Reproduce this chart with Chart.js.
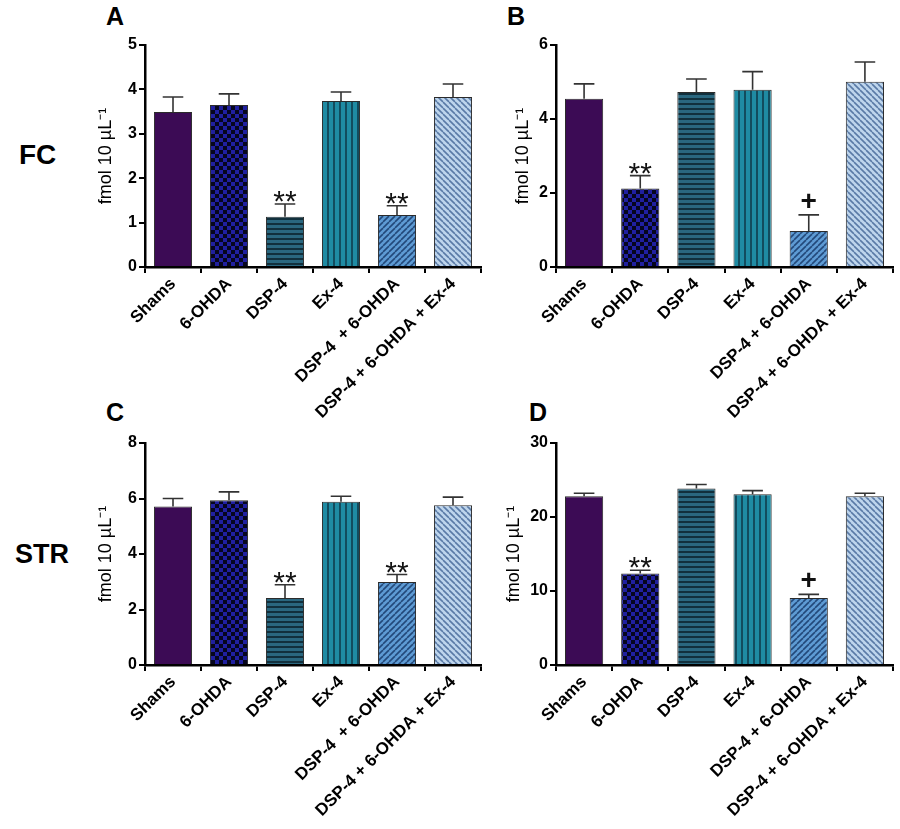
<!DOCTYPE html>
<html>
<head>
<meta charset="utf-8">
<script src="https://cdn.jsdelivr.net/npm/chart.js@4.4.1/dist/chart.umd.min.js"></script>
<style>
  body { margin: 0; background: #fff; width: 900px; height: 829px; position: relative; overflow: hidden; font-family: "Liberation Sans", Arial, sans-serif; }
  canvas { position: absolute; }
  .lbl { position: absolute; font-weight: bold; color: #000; line-height: 1; }
</style>
</head>
<body>
<div class="lbl" style="left:106px;top:4px;font-size:25px">A</div>
<div class="lbl" style="left:507px;top:4px;font-size:25px">B</div>
<div class="lbl" style="left:106px;top:400px;font-size:25px">C</div>
<div class="lbl" style="left:529px;top:400px;font-size:25px">D</div>
<div class="lbl" style="left:19px;top:141px;font-size:28px">FC</div>
<div class="lbl" style="left:15px;top:541px;font-size:27px">STR</div>

<canvas id="chartA" width="395" height="400" style="left:95px;top:30px"></canvas>
<canvas id="chartB" width="390" height="400" style="left:512px;top:30px"></canvas>
<canvas id="chartC" width="395" height="400" style="left:95px;top:428px"></canvas>
<canvas id="chartD" width="395" height="400" style="left:503px;top:428px"></canvas>

<script>
// categories
var labelsAC = ['Shams', '6-OHDA', 'DSP-4', 'Ex-4', 'DSP-4  + 6-OHDA', 'DSP-4 + 6-OHDA + Ex-4'];
var labelsBD = ['Shams', '6-OHDA', 'DSP-4', 'Ex-4', 'DSP-4 + 6-OHDA', 'DSP-4 + 6-OHDA + Ex-4'];

// FC
var meansA = [3.49, 3.65, 1.13, 3.74, 1.17, 3.83];
var errA   = [0.34, 0.25, 0.29, 0.20, 0.21, 0.29];
var marksA = ['', '', '**', '', '**', ''];

var meansB = [4.55, 2.12, 4.73, 4.79, 0.97, 5.01];
var errB   = [0.40, 0.35, 0.35, 0.49, 0.44, 0.53];
var marksB = ['', '**', '', '', '+', ''];

// STR
var meansC = [5.71, 5.94, 2.41, 5.88, 2.99, 5.76];
var errC   = [0.29, 0.30, 0.48, 0.20, 0.27, 0.29];
var marksC = ['', '', '**', '', '**', ''];

var meansD = [22.8, 12.36, 23.84, 23.08, 9.07, 22.8];
var errD   = [0.40, 0.44, 0.56, 0.49, 0.48, 0.40];
var marksD = ['', '**', '', '', '+', ''];

var yTitle = 'fmol 10 \u00b5L\u207b\u00b9';
var FONT = '"Liberation Sans", Arial, sans-serif';

function makeTile(size, draw) {
    var c = document.createElement('canvas');
    c.width = size; c.height = size;
    var g = c.getContext('2d');
    draw(g, size);
    return g.createPattern(c, 'repeat');
}

function fills() {
    var solid = '#3c0b55';
    var checker = makeTile(8, function (g) {
        g.fillStyle = '#06061e'; g.fillRect(0, 0, 8, 8);
        g.fillStyle = '#2020a0'; g.fillRect(0, 0, 4, 4); g.fillRect(4, 4, 4, 4);
    });
    var hstripe = makeTile(5, function (g) {
        g.fillStyle = '#2a677f'; g.fillRect(0, 0, 5, 5);
        g.fillStyle = '#11303d'; g.fillRect(0, 3, 5, 2);
    });
    var vstripe = makeTile(6, function (g) {
        g.fillStyle = '#1f8ba3'; g.fillRect(0, 0, 6, 6);
        g.fillStyle = '#124c5e'; g.fillRect(4, 0, 2, 6);
    });
    function diag(bg, fg, up) {
        return makeTile(6, function (g, s) {
            g.fillStyle = bg; g.fillRect(0, 0, s, s);
            g.strokeStyle = fg; g.lineWidth = 1.6;
            for (var k = -1; k <= 1; k++) {
                g.beginPath();
                if (up) { g.moveTo(k * s, s); g.lineTo(k * s + s, 0); }
                else { g.moveTo(k * s, 0); g.lineTo(k * s + s, s); }
                g.stroke();
            }
        });
    }
    return [solid, checker, hstripe, vstripe,
        diag('#5e9bd4', '#23497a', true),
        diag('#bed5ec', '#5a7aa6', false)];
}

var errorBarPlugin = {
    id: 'errBars',
    afterDatasetsDraw: function (chart, args, opts) {
        var ctx = chart.ctx;
        var meta = chart.getDatasetMeta(0);
        var ys = chart.scales.y;
        var vals = chart.data.datasets[0].data;
        ctx.save();
        meta.data.forEach(function (bar, i) {
            var top = ys.getPixelForValue(vals[i] + opts.err[i]);
            var half = bar.width * 0.27;
            ctx.strokeStyle = '#333';
            ctx.lineWidth = 1.6;
            ctx.beginPath();
            ctx.moveTo(bar.x, bar.y);
            ctx.lineTo(bar.x, top);
            ctx.moveTo(bar.x - half, top);
            ctx.lineTo(bar.x + half, top);
            ctx.stroke();
            var m = opts.marks[i];
            if (m) {
                ctx.fillStyle = '#111';
                ctx.textAlign = 'center';
                ctx.textBaseline = 'alphabetic';
                if (m === '+') {
                    ctx.font = 'bold 28px ' + FONT;
                    ctx.fillText(m, bar.x, top - 5);
                } else {
                    ctx.font = '30px ' + FONT;
                    ctx.fillText(m, bar.x, top + 7);
                }
            }
        });
        ctx.restore();
    }
};

function makePanel(id, labels, means, errs, marks, yMax, yStep, yWidth, padRight) {
    var ctx = document.getElementById(id);
    return new Chart(ctx, {
        type: 'bar',
        data: {
            labels: labels,
            datasets: [{
                data: means,
                backgroundColor: fills(),
                borderColor: '#2b2b2b',
                borderWidth: 1,
                barPercentage: 0.68,
                categoryPercentage: 1
            }]
        },
        options: {
            responsive: false,
            animation: false,
            layout: { padding: { top: 15, right: padRight, left: 0, bottom: 0 } },
            plugins: {
                legend: { display: false },
                tooltip: { enabled: false },
                errBars: { err: errs, marks: marks }
            },
            scales: {
                x: {
                    offset: true,
                    grid: { display: true, drawOnChartArea: false, tickLength: 6, color: '#000', lineWidth: 2 },
                    border: { display: true, color: '#000', width: 2.5 },
                    ticks: {
                        autoSkip: false, minRotation: 45, maxRotation: 45,
                        color: '#000', padding: 1,
                        font: { family: FONT, size: 17, weight: 'bold' }
                    },
                    afterFit: function (s) { s.height = 163; }
                },
                y: {
                    min: 0, max: yMax,
                    grid: { display: true, drawOnChartArea: false, tickLength: 6, color: '#000', lineWidth: 2 },
                    border: { display: true, color: '#000', width: 2.5 },
                    ticks: {
                        stepSize: yStep, color: '#000', padding: 2,
                        font: { family: FONT, size: 16, weight: 'bold' }
                    },
                    title: {
                        display: true, text: yTitle, color: '#000', padding: 0,
                        font: { family: FONT, size: 18 }
                    },
                    afterFit: function (s) { s.width = yWidth; }
                }
            }
        },
        plugins: [errorBarPlugin]
    });
}

makePanel('chartA', labelsAC, meansA, errA, marksA, 5, 1, 50, 9);
makePanel('chartB', labelsBD, meansB, errB, marksB, 6, 2, 44, 9);
makePanel('chartC', labelsAC, meansC, errC, marksC, 8, 2, 50, 9);
makePanel('chartD', labelsBD, meansD, errD, marksD, 30, 10, 53, 5);
</script>
</body>
</html>
